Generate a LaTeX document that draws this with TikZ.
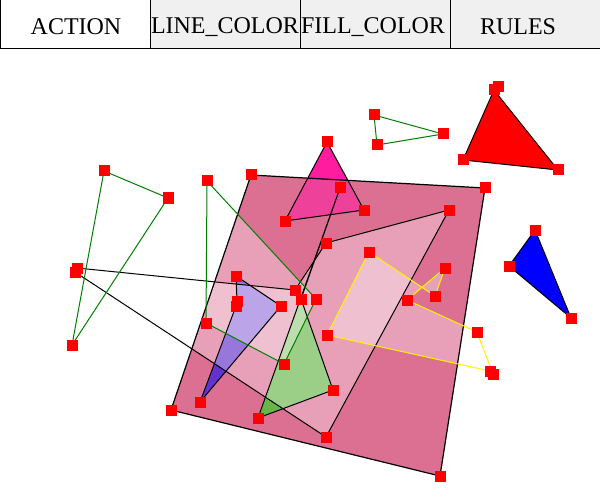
\documentclass[tikz,border=0pt]{standalone}
\usepackage{fontspec}
\setmainfont{Liberation Serif}
\definecolor{pvr}{RGB}{219,112,147}
\definecolor{magfill}{RGB}{255,28,158}
\definecolor{purpfill}{RGB}{100,50,204}
\definecolor{grnfill}{RGB}{104,182,72}
\definecolor{linegreen}{RGB}{0,128,0}
\definecolor{hdrgray}{RGB}{240,240,240}
\begin{document}
\begin{tikzpicture}[x=1pt,y=-1pt,
  edge/.style={line width=1pt, line join=round},
  blk/.style={edge, draw=black},
  grn/.style={edge, draw=linegreen},
  ylw/.style={edge, draw=yellow},
  veil/.style={fill=white, fill opacity=0.34},
  hdr/.style={font=\fontsize{24}{28}\selectfont, inner sep=0pt, anchor=center}
]
\useasboundingbox (0,0) rectangle (600,500);
\fill[white] (0,0) rectangle (600,500);
% header
\fill[hdrgray] (150,0) rectangle (600,49);
\draw[line width=1pt] (0.5,0) -- (0.5,49);
\draw[line width=1pt] (0,49) -- (600,49);
\draw[line width=1pt] (150,0) -- (150,49);
\draw[line width=1pt] (300,0) -- (300,49);
\draw[line width=1pt] (450,0) -- (450,49);
\node[hdr] (hA) at (76,27) {ACTION};
\node[hdr] (hB) at (225,27) {LINE\_COLOR};
\node[hdr] (hC) at (373,27) {FILL\_COLOR};
\node[hdr] (hD) at (518,27) {RULES};
% coordinates
\coordinate (q1) at (251,175); \coordinate (q2) at (485,188);
\coordinate (q3) at (440,476); \coordinate (q4) at (171,410);
\coordinate (m1) at (327,142); \coordinate (m2) at (285,221); \coordinate (m3) at (364,210);
\coordinate (p1) at (236,276); \coordinate (p2) at (281,306); \coordinate (p3) at (200,402);
\coordinate (p4) at (237,301); \coordinate (p5) at (236,306);
\coordinate (g1) at (340,188); \coordinate (g2) at (258,418); \coordinate (g3) at (333,390); \coordinate (g4) at (301,299);
\coordinate (h1) at (207,181); \coordinate (h2) at (316,299); \coordinate (h3) at (284,364); \coordinate (h4) at (206,323);
\coordinate (w1) at (77,268); \coordinate (w2) at (295,290); \coordinate (w3) at (326,243);
\coordinate (w4) at (449,210); \coordinate (w5) at (326,437); \coordinate (w6) at (75,272);
\coordinate (y1) at (369,252); \coordinate (y2) at (327,335); \coordinate (y3) at (490,371);
\coordinate (y4) at (493,374); \coordinate (y5) at (477,332); \coordinate (y6) at (407,300);
\coordinate (y7) at (445,268); \coordinate (y8) at (435,296);
\coordinate (t1) at (104,171); \coordinate (t2) at (168,198); \coordinate (t3) at (72,345);
\coordinate (s1) at (374,115); \coordinate (s2) at (443,134); \coordinate (s3) at (377,145);
\coordinate (r1) at (494,90); \coordinate (r0) at (498,87); \coordinate (r2) at (558,170); \coordinate (r3) at (463,160);
\coordinate (b1) at (535,230); \coordinate (b2) at (571,318); \coordinate (b3) at (509,266);
% fills
\fill[pvr] (q1)--(q2)--(q3)--(q4)--cycle;
\fill[magfill] (m1)--(m2)--(m3)--cycle;
\begin{scope}
  \clip (q1)--(q2)--(q3)--(q4)--cycle;
  \fill[pvr, fill opacity=0.45] (m1)--(m2)--(m3)--cycle;
\end{scope}
\fill[purpfill] (p1)--(p2)--(p3)--(p5)--(p4)--cycle;
\fill[grnfill] (g1)--(g2)--(g3)--(g4)--cycle;
\fill[red] (r1)--(r2)--(r3)--cycle;
\fill[blue] (b1)--(b2)--(b3)--cycle;
\fill[veil] (w1)--(w2)--(w3)--(w4)--(w5)--(w6)--cycle;
\fill[veil] (h1)--(h2)--(h3)--(h4)--cycle;
\fill[veil] (y1)--(y2)--(y3)--(y4)--(y5)--(y6)--(y7)--(y8)--cycle;
% outlines
\draw[blk, line width=1.2pt] (q1)--(q2)--(q3)--(q4)--cycle;
\draw[blk] (m1)--(m2)--(m3)--cycle;
\draw[blk] (p1)--(p2)--(p3)--(p5)--(p4)--cycle;
\draw[blk] (g1)--(g2)--(g3)--(g4)--cycle;
\draw[blk] (r1)--(r2)--(r3)--cycle;
\draw[blk] (b1)--(b2)--(b3)--cycle;
\draw[blk] (w1)--(w2)--(w3)--(w4)--(w5)--(w6)--cycle;
\draw[grn] (h1)--(h2)--(h3)--(h4)--cycle;
\draw[grn] (t1)--(t2)--(t3)--cycle;
\draw[grn] (s1)--(s2)--(s3)--cycle;
\draw[ylw] (y1)--(y2)--(y3)--(y4)--(y5)--(y6)--(y7)--(y8)--cycle;
% vertex markers
\foreach \c in {q1,q2,q3,q4,m1,m2,m3,p1,p2,p3,p4,p5,g1,g2,g3,g4,h1,h2,h3,h4,
  w1,w2,w3,w4,w5,w6,y1,y2,y3,y4,y5,y6,y7,y8,t1,t2,t3,s1,s2,s3,r0,r1,r2,r3,b1,b2,b3}
  \fill[red] (\c) ++(-5.5,-5.5) rectangle ++(11,11);
\end{tikzpicture}
\end{document}
